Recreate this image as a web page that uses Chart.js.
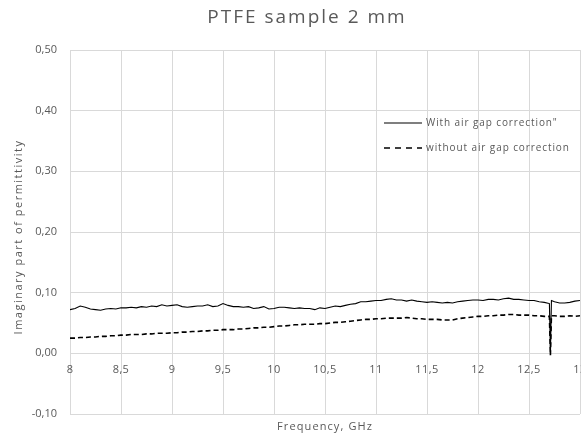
<!DOCTYPE html>
<html>
<head>
<meta charset="utf-8">
<script src="https://cdn.jsdelivr.net/npm/chart.js@4.4.0/dist/chart.umd.min.js"></script>
<style>
  html, body { margin: 0; padding: 0; background: #ffffff; }
  #wrap { width: 581px; height: 439px; }
</style>
</head>
<body>
<div id="wrap"><canvas id="chart"></canvas></div>
<script>
// Frequency points, GHz
const freq = [
  8.00, 8.05, 8.10, 8.15, 8.20, 8.25, 8.30, 8.35, 8.40, 8.45,
  8.50, 8.55, 8.60, 8.65, 8.70, 8.75, 8.80, 8.85, 8.90, 8.95,
  9.00, 9.05, 9.10, 9.15, 9.20, 9.25, 9.30, 9.35, 9.40, 9.45,
  9.50, 9.55, 9.60, 9.65, 9.70, 9.75, 9.80, 9.85, 9.90, 9.95,
  10.00, 10.05, 10.10, 10.15, 10.20, 10.25, 10.30, 10.35, 10.40, 10.45,
  10.50, 10.55, 10.60, 10.65, 10.70, 10.75, 10.80, 10.85, 10.90, 10.95,
  11.00, 11.05, 11.10, 11.15, 11.20, 11.25, 11.30, 11.35, 11.40, 11.45,
  11.50, 11.55, 11.60, 11.65, 11.70, 11.75, 11.80, 11.85, 11.90, 11.95,
  12.00, 12.05, 12.10, 12.15, 12.20, 12.25, 12.30, 12.35, 12.40, 12.45,
  12.50, 12.55, 12.60, 12.65, 12.70, 12.71, 12.72, 12.75, 12.80, 12.85,
  12.90, 12.95, 13.00
];

// With air gap correction
const withGap = [
  0.072, 0.074, 0.078, 0.076, 0.073, 0.072, 0.071, 0.073, 0.074, 0.073,
  0.075, 0.075, 0.076, 0.075, 0.077, 0.076, 0.078, 0.077, 0.080, 0.078,
  0.079, 0.080, 0.077, 0.076, 0.077, 0.078, 0.078, 0.080, 0.077, 0.078,
  0.082, 0.079, 0.077, 0.077, 0.076, 0.077, 0.074, 0.075, 0.077, 0.073,
  0.074, 0.076, 0.076, 0.075, 0.074, 0.075, 0.074, 0.074, 0.072, 0.075,
  0.074, 0.076, 0.078, 0.077, 0.079, 0.081, 0.082, 0.085, 0.085, 0.086,
  0.087, 0.087, 0.089, 0.090, 0.088, 0.088, 0.086, 0.088, 0.086, 0.085,
  0.084, 0.085, 0.084, 0.083, 0.084, 0.083, 0.085, 0.086, 0.087, 0.088,
  0.088, 0.087, 0.089, 0.089, 0.088, 0.090, 0.091, 0.089, 0.089, 0.088,
  0.087, 0.087, 0.085, 0.084, 0.082, 0.000, 0.087, 0.085, 0.083, 0.083,
  0.084, 0.086, 0.087
];

// Without air gap correction
const withoutGap = [
  0.025, 0.025, 0.026, 0.026, 0.027, 0.027, 0.028, 0.028, 0.029, 0.029,
  0.030, 0.030, 0.031, 0.031, 0.031, 0.032, 0.032, 0.033, 0.033, 0.033,
  0.034, 0.034, 0.035, 0.035, 0.036, 0.036, 0.037, 0.037, 0.038, 0.038,
  0.039, 0.039, 0.039, 0.040, 0.040, 0.041, 0.042, 0.042, 0.043, 0.043,
  0.044, 0.045, 0.045, 0.046, 0.047, 0.047, 0.048, 0.048, 0.048, 0.049,
  0.049, 0.050, 0.051, 0.051, 0.052, 0.053, 0.054, 0.055, 0.056, 0.056,
  0.057, 0.057, 0.058, 0.058, 0.058, 0.058, 0.059, 0.058, 0.057, 0.057,
  0.056, 0.056, 0.056, 0.055, 0.055, 0.055, 0.057, 0.058, 0.059, 0.060,
  0.061, 0.061, 0.062, 0.062, 0.063, 0.063, 0.064, 0.064, 0.063, 0.063,
  0.063, 0.062, 0.062, 0.061, 0.061, -0.003, 0.062, 0.062, 0.061, 0.061,
  0.062, 0.061, 0.062
];

const seriesLabels = ['With air gap correction"', 'without air gap correction'];
const chartTitle = 'PTFE sample 2 mm';
const xTitle = 'Frequency, GHz';
const yTitle = 'Imaginary part of permittivity';

const grey = '#595959';
const gridColor = '#d9d9d9';
const fontFamily = '"Open Sans", "Noto Sans", sans-serif';

const toPoints = (ys) => freq.map((f, i) => ({ x: f, y: ys[i] }));
const comma = (v, digits) => {
    const r = Math.round(v * 100) / 100;
    return (r === 0 ? 0 : r).toFixed(digits).replace('.', ',');
};

function spacedText(ctx, text, x, y, size, spacing, align) {
    ctx.font = size + 'px ' + fontFamily;
    ctx.letterSpacing = spacing + 'px';
    ctx.textAlign = align;
    ctx.textBaseline = 'middle';
    ctx.fillText(text, x, y);
}

// Excel-like texts: title, axis titles, x labels under the zero line, legend
const excelText = {
    id: 'excelText',
    afterDraw(chart) {
        const { ctx, scales, chartArea } = chart;
        const y0 = scales.y.getPixelForValue(0);
        ctx.save();
        ctx.fillStyle = grey;

        spacedText(ctx, chartTitle, 307, 18, 19, 2, 'center');
        spacedText(ctx, xTitle, (chartArea.left + chartArea.right) / 2, 427, 11, 1.1, 'center');

        ctx.save();
        ctx.translate(19, 237);
        ctx.rotate(-Math.PI / 2);
        spacedText(ctx, yTitle, 0, 0, 11, 1.5, 'center');
        ctx.restore();

        scales.x.ticks.forEach(t => {
            spacedText(ctx, String(t.value).replace('.', ','),
                scales.x.getPixelForValue(t.value), y0 + 17, 11, 0.4, 'center');
        });

        const x0 = 384, lineLen = 38, rows = [123, 148];
        chart.data.datasets.forEach((ds, i) => {
            const y = rows[i];
            ctx.strokeStyle = ds.borderColor;
            ctx.lineWidth = ds.borderWidth;
            ctx.setLineDash(ds.borderDash ? [6, 5] : []);
            ctx.beginPath();
            ctx.moveTo(x0, y);
            ctx.lineTo(x0 + lineLen, y);
            ctx.stroke();
            ctx.setLineDash([]);
            spacedText(ctx, ds.label, x0 + lineLen + 4, y, 10, 0.9, 'left');
        });
        ctx.restore();
    }
};

new Chart(document.getElementById('chart'), {
    type: 'line',
    data: {
        datasets: [{
            label: seriesLabels[0],
            data: toPoints(withGap),
            borderColor: '#000000',
            borderWidth: 1.1,
            pointRadius: 0,
            tension: 0
        }, {
            label: seriesLabels[1],
            data: toPoints(withoutGap),
            borderColor: '#000000',
            borderWidth: 1.6,
            borderDash: [5, 3],
            pointRadius: 0,
            tension: 0
        }]
    },
    options: {
        responsive: true,
        maintainAspectRatio: false,
        animation: false,
        layout: {
            autoPadding: false,
            padding: { left: 0, right: 1, top: 50, bottom: 25 }
        },
        scales: {
            x: {
                type: 'linear',
                position: 'bottom',
                min: 8,
                max: 13,
                ticks: { stepSize: 0.5, display: false },
                grid: { color: gridColor, drawTicks: false },
                border: { display: false }
            },
            y: {
                min: -0.1,
                max: 0.5,
                ticks: {
                    stepSize: 0.1,
                    color: grey,
                    padding: 13,
                    font: { family: fontFamily, size: 11 },
                    callback: (v) => comma(v, 2)
                },
                grid: { color: gridColor, drawTicks: false },
                border: { display: false },
                afterFit: (scale) => { scale.width = 70; }
            }
        },
        plugins: {
            legend: { display: false },
            tooltip: { enabled: false },
            title: { display: false }
        }
    },
    plugins: [excelText]
});
</script>
</body>
</html>
